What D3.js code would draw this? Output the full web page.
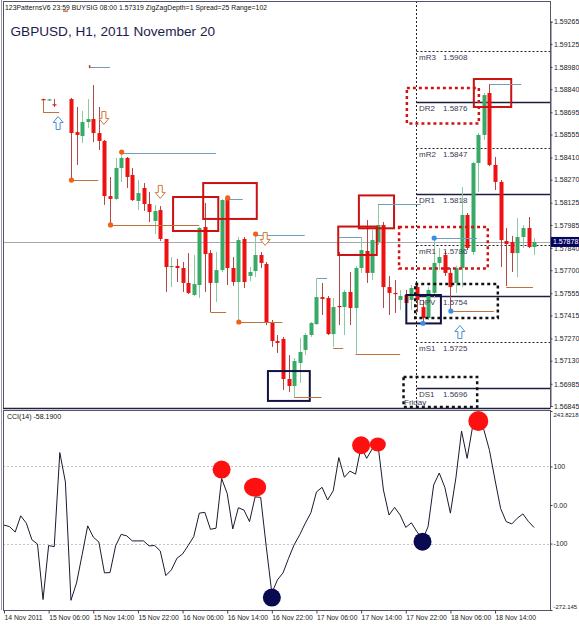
<!DOCTYPE html>
<html><head><meta charset="utf-8">
<script src="https://cdn.jsdelivr.net/npm/d3@7"></script>
<style>html,body{margin:0;padding:0;background:#fff;} svg{display:block;font-family:"Liberation Sans",Arial,sans-serif;}</style>
</head><body><svg id="c" width="579" height="625"></svg>
<script>
// ---------- DATA ----------
const headerText = "123PatternsV6  23:59  BUYSIG  08:00  1.57319  ZigZagDepth=1  Spread=25  Range=102";
const titleText = "GBPUSD, H1, 2011 November 20";
const cciLabel = "CCI(14) -58.1900";
const bidPrice = 1.57878;

const timeTickBars = [0,8,16,24,32,40,48,56,64,72,80,88];
const timeTickLabels = ["14 Nov 2011","15 Nov 06:00","15 Nov 14:00","15 Nov 22:00","16 Nov 06:00","16 Nov 14:00","16 Nov 22:00","17 Nov 06:00","17 Nov 14:00","17 Nov 22:00","18 Nov 06:00","18 Nov 14:00"];
const priceTicks = [1.59265,1.59125,1.58980,1.58840,1.58695,1.58555,1.58410,1.58270,1.58125,1.57985,1.57840,1.57700,1.57555,1.57415,1.57270,1.57130,1.56985,1.56845];
const cciTicks = [243.8218,100,0,-100,-272.145];
const cciTickLabels = ["243.8218","100","0.00","-100","-272.145"];

const candleBars = [7,8,9].concat(d3.range(12,96));
const openP = [1.58778,1.58770,1.58745,1.58778,1.58570,1.58545,1.58633,1.58652,1.58564,1.58514,
 1.58167,1.58149,1.58344,1.58407,1.58300,1.58136,1.58218,1.58117,1.58010,1.58079,
 1.57897,1.57720,1.57727,1.57714,1.57620,1.57544,1.57607,1.57972,1.57808,1.57620,
 1.57701,1.58149,1.57714,1.57626,1.57897,1.57664,1.57695,1.57796,1.57739,1.57368,
 1.57254,1.57267,1.57015,1.56971,1.57116,1.57198,1.57292,1.57361,1.57531,1.57525,
 1.57298,1.57475,1.57468,1.57563,1.57462,1.57714,1.57821,1.57683,1.57878,1.57985,
 1.57594,1.57557,1.57513,1.57544,1.57513,1.57594,1.57468,1.57399,1.57557,1.57746,
 1.57796,1.57683,1.57620,1.57714,1.58048,1.57815,1.58375,1.58552,1.58816,1.58363,
 1.58256,1.57884,1.57878,1.57808,1.57909,1.57966,1.57846];
const highP = [1.58780,1.58780,1.58778,1.58785,1.58728,1.58703,1.58778,1.58866,1.58728,1.58520,
 1.58287,1.58407,1.58444,1.58413,1.58344,1.58268,1.58249,1.58193,1.58111,1.58104,
 1.57897,1.57783,1.57771,1.57752,1.57808,1.57796,1.57972,1.58123,1.57827,1.57815,
 1.58149,1.58155,1.57783,1.57909,1.57909,1.57720,1.57928,1.57815,1.57752,1.57387,
 1.57292,1.57280,1.57166,1.57147,1.57273,1.57305,1.57374,1.57645,1.57620,1.57538,
 1.57525,1.57815,1.57576,1.57689,1.57727,1.57909,1.58016,1.57953,1.58111,1.58004,
 1.57664,1.57639,1.57576,1.57576,1.57607,1.57620,1.57513,1.57594,1.57903,1.57840,
 1.57821,1.57714,1.57727,1.58224,1.58060,1.58382,1.58564,1.58816,1.58873,1.58413,
 1.58268,1.57966,1.57916,1.58029,1.57985,1.58035,1.57903];
const lowP = [1.58766,1.58766,1.58728,1.58268,1.58363,1.58501,1.58596,1.58507,1.58457,1.58111,
 1.57985,1.58142,1.58256,1.58218,1.58136,1.58079,1.58073,1.58004,1.57928,1.57884,
 1.57563,1.57594,1.57626,1.57563,1.57550,1.57538,1.57525,1.57563,1.57437,1.57500,
 1.57689,1.57607,1.57601,1.57374,1.57588,1.57632,1.57657,1.57714,1.57355,1.57217,
 1.57179,1.56946,1.56933,1.56902,1.56990,1.57166,1.57280,1.57355,1.57418,1.57292,
 1.57217,1.57355,1.57292,1.57355,1.57173,1.57683,1.57620,1.57639,1.57859,1.57462,
 1.57418,1.57431,1.57450,1.57481,1.57450,1.57437,1.57374,1.57387,1.57525,1.57701,
 1.57664,1.57450,1.57557,1.57594,1.57827,1.57796,1.58193,1.58520,1.58356,1.58205,
 1.57720,1.57601,1.57689,1.57657,1.57840,1.57840,1.57796];
const closeP = [1.58770,1.58776,1.58745,1.58564,1.58552,1.58633,1.58652,1.58564,1.58514,1.58167,
 1.58149,1.58344,1.58407,1.58287,1.58142,1.58186,1.58117,1.58067,1.58073,1.57897,
 1.57720,1.57727,1.57714,1.57620,1.57557,1.57613,1.57966,1.57802,1.57620,1.57701,
 1.58142,1.57714,1.57626,1.57890,1.57626,1.57689,1.57796,1.57746,1.57368,1.57254,
 1.57242,1.57015,1.56971,1.57128,1.57185,1.57292,1.57368,1.57531,1.57519,1.57298,
 1.57468,1.57468,1.57563,1.57462,1.57714,1.57827,1.57683,1.57890,1.57985,1.57594,
 1.57557,1.57550,1.57538,1.57494,1.57588,1.57513,1.57399,1.57576,1.57746,1.57783,
 1.57683,1.57594,1.57714,1.58048,1.57840,1.58375,1.58552,1.58803,1.58363,1.58256,
 1.57890,1.57865,1.57808,1.57909,1.57966,1.57846,1.57878];

// CCI(14), one value per bar 0..95
const cciValues = [-52,-56,-70,-28,-47,-90,-101,-245,-105,-108,136,60,-247,-202,-129,-54,-83,-96,-176,-175,
 -106,-76,-80,-93,-93,-93,-106,-105,-119,-183,-168,-138,-127,-105,-82,-21,-19,-63,-60,69,
 30,-62,-7,-13,-43,21,20,-108,-228,-194,-176,-138,-103,-77,-47,-20,34,46,13,37,
 123,72,88,80,151,121,146,159,39,-26,-6,-26,-58,-46,-69,-90,-56,52,83,46,
 -21,72,192,121,205,222,195,142,65,-9,-43,-49,-34,-23,-43,-58.19];
const cciDotBars = [39,45,48,64,67,75,85];
const cciDotValues = [92,46,-240,155,157,-95,218];
const cciDotKinds = ["peak","peakWide","trough","peak","peakSmall","trough","peakBig"];

// Daily pivots (Friday)
const pivotNames = ["mR3","DR2","mR2","DR1","mR1","DPV","mS1","DS1"];
const pivotValues = [1.5908,1.5876,1.5847,1.5818,1.5786,1.5754,1.5725,1.5696];
const pivotStartBar = 73.85;

// pattern boxes: bar range and price range
const boxBar0 = [30.3,35.7,63.6,59.9,84.2,72.2,70.8,73.7,71.6,72.1,47.3];
const boxBar1 = [38.4,45.3,69.9,66.8,90.9,85.1,86.7,88.5,84.8,78.3,54.8];
const boxTop  = [1.58161,1.58249,1.58171,1.57975,1.58904,1.58848,1.57972,1.57613,1.57028,1.57544,1.57065];
const boxBot  = [1.57947,1.58023,1.57964,1.57796,1.58728,1.58624,1.57711,1.57399,1.56839,1.57365,1.56877];
const boxKind = ["red","red","red","red","red","redDot","redDot","blackDot","blackDot","navy","navy"];

// zigzag level segments
const segBar0 = [12,19,21,40,37,42,45,52,56,59,63,67,60,77,80,90,87,15.3,7];
const segBar1 = [16.9,35,38,42.8,39.8,49.9,53.9,56.9,57.9,60.8,71,74.7,64,84.8,87.8,94.8,92.7,19,9.9];
const segPrice = [1.58268,1.57985,1.58438,1.58149,1.57437,1.57374,1.57922,1.56902,1.57648,1.57210,1.57173,1.58114,1.57911,1.57901,1.57443,1.57596,1.58873,1.58982,1.58696];
const segKind = ["o","o","t","t","o","o","t","o","t","o","o","t","t","t","o","o","t","t","o"];
const vsegBar = [7];
const vsegP0 = [1.58772];
const vsegP1 = [1.58696];

const dotBars = [12,19,21,40,42,45,77,75,80];
const dotPrices = [1.58268,1.57985,1.58444,1.58155,1.57374,1.57928,1.57903,1.57366,1.57443];
const dotKind = ["o","o","o","o","o","o","b","b","b"];

const arrowBars = [9.7,17.9,28,46.8,81.7];
const arrowPrices = [1.58627,1.58659,1.58193,1.57897,1.57311];
const arrowDir = ["up","down","down","down","up"];

// ---------- DRAW ----------
const svg = d3.select("#c");
const L = 3, R = 550, mainTop = 1, mainBot = 408, cciTop = 410, cciBot = 610;
const x = d3.scaleLinear().domain([0,95]).range([4, 534.1]);
const yP = d3.scaleLinear().domain([1.56845,1.59265]).range([406,21.7]);
const yC = d3.scaleLinear().domain([-272.145,243.8218]).range([cciBot,411]);

const main = svg.append("g");
const cci = svg.append("g");

// frames
svg.append("line").attr("x1",1.5).attr("x2",1.5).attr("y1",0).attr("y2",cciBot).attr("stroke","#9a9aa8");
svg.append("rect").attr("x",L+0.5).attr("y",mainTop+0.5).attr("width",R-L).attr("height",mainBot-mainTop)
  .attr("fill","none").attr("stroke","#55556a").attr("stroke-width",1);
svg.append("rect").attr("x",L+0.5).attr("y",cciTop+0.5).attr("width",R-L).attr("height",cciBot-cciTop)
  .attr("fill","none").attr("stroke","#55556a").attr("stroke-width",1);
svg.append("line").attr("x1",L).attr("x2",R).attr("y1",mainBot+0.5).attr("y2",mainBot+0.5).attr("stroke","#202040").attr("stroke-width",1.5);

// header + title
svg.append("text").attr("x",5).attr("y",10).attr("font-size",6.8).attr("fill","#111")
  .attr("textLength",262).attr("lengthAdjust","spacing").text(headerText);
svg.append("rect").attr("x",63).attr("y",10.5).attr("width",5).attr("height",1.3).attr("fill","#e05020");
svg.append("text").attr("x",10.5).attr("y",36).attr("font-size",13.6).attr("fill","#1c1c4e").text(titleText);

// bid line
main.append("line").attr("x1",L).attr("x2",R).attr("y1",Math.round(yP(bidPrice))+0.5).attr("y2",Math.round(yP(bidPrice))+0.5)
  .attr("stroke","#a8a8b0").attr("stroke-width",1);

// day separator
const sepX = Math.round(x(pivotStartBar))+0.5;
main.append("line").attr("x1",sepX).attr("x2",sepX).attr("y1",mainTop).attr("y2",mainBot)
  .attr("stroke","#222").attr("stroke-dasharray","2,2");

// pivots
pivotNames.forEach((n,i)=>{
  const yy = Math.round(yP(pivotValues[i]))+0.5;
  const solid = n[0]==="D";
  main.append("line").attr("x1",sepX).attr("x2",R).attr("y1",yy).attr("y2",yy)
    .attr("stroke",solid?"#1e1e40":"#222").attr("stroke-width",solid?1.5:1)
    .attr("stroke-dasharray",solid?null:"2,2");
});

// candles
const cg = main.append("g");
candleBars.forEach((b,i)=>{
  const o=openP[i], c=closeP[i], h=highP[i], l=lowP[i];
  const up = c>o;
  const cx = Math.round(x(b))+0.5;
  cg.append("line").attr("x1",cx).attr("x2",cx).attr("y1",yP(h)).attr("y2",yP(l))
    .attr("stroke", up?"#8ccaa4":"#b04848").attr("stroke-width",1);
  const y0 = yP(Math.max(o,c)), y1 = yP(Math.min(o,c));
  cg.append("rect").attr("x",cx-2).attr("y",y0).attr("width",4).attr("height",Math.max(1.2,y1-y0))
    .attr("fill", up?"#38aa66":"#ee1111");
});

// boxes
const boxStyle = {
  red:{stroke:"#cc1111",w:2,dash:null},
  redDot:{stroke:"#d01515",w:2.5,dash:"3,3"},
  blackDot:{stroke:"#111",w:2.5,dash:"3,3"},
  navy:{stroke:"#121242",w:2,dash:null}
};
boxKind.forEach((k,i)=>{
  const s=boxStyle[k];
  const x0=x(boxBar0[i]), x1=x(boxBar1[i]), y0=yP(boxTop[i]), y1=yP(boxBot[i]);
  main.append("rect").attr("x",x0).attr("y",y0).attr("width",x1-x0).attr("height",y1-y0)
    .attr("fill","none").attr("stroke",s.stroke).attr("stroke-width",s.w).attr("stroke-dasharray",s.dash);
});

// zigzag segments
const segColor = {o:"#c2703c", t:"#6f9fb8"};
segKind.forEach((k,i)=>{
  const yy = Math.round(yP(segPrice[i]))+0.5;
  main.append("line").attr("x1",x(segBar0[i])).attr("x2",x(segBar1[i])).attr("y1",yy).attr("y2",yy)
    .attr("stroke",segColor[k]).attr("stroke-width",1);
});
vsegBar.forEach((b,i)=>{
  const xx=Math.round(x(b))+0.5;
  main.append("line").attr("x1",xx).attr("x2",xx).attr("y1",yP(vsegP0[i])).attr("y2",yP(vsegP1[i]))
    .attr("stroke",segColor.o);
});
main.append("rect").attr("x",x(15.3)-0.5).attr("y",yP(1.58982)-1.5).attr("width",1.5).attr("height",3).attr("fill","#cc3030");

// dots
dotKind.forEach((k,i)=>{
  main.append("circle").attr("cx",x(dotBars[i])+0.5).attr("cy",yP(dotPrices[i])).attr("r",2.6)
    .attr("fill",k==="o"?"#f0601a":"#3a8ee8");
});

// arrows
const upPath = "M0,-6.5 L5,-0.5 L2,-0.5 L2,6.5 L-2,6.5 L-2,-0.5 L-5,-0.5 Z";
arrowDir.forEach((d,i)=>{
  main.append("path").attr("d",upPath)
    .attr("transform",`translate(${x(arrowBars[i])},${yP(arrowPrices[i])}) rotate(${d==="up"?0:180})`)
    .attr("fill","#fff").attr("stroke",d==="up"?"#4a8fd0":"#d07838").attr("stroke-width",1);
});

// pivot labels
pivotNames.forEach((n,i)=>{
  const yy = yP(pivotValues[i])+9;
  main.append("text").attr("x",sepX+2.5).attr("y",yy).attr("font-size",8).attr("fill","#3a3a55").text(n);
  main.append("text").attr("x",sepX+26.5).attr("y",yy).attr("font-size",8).attr("fill","#3a3a55").text(pivotValues[i].toFixed(4));
});
main.append("text").attr("x",404).attr("y",404.5).attr("font-size",8).attr("fill","#3a3a55").text("Friday");

// price axis
const pa = svg.append("g").attr("transform",`translate(${R+0.5},0)`)
  .call(d3.axisRight(yP).tickValues(priceTicks).tickSize(2).tickPadding(1.5).tickFormat(d3.format(".5f")));
pa.select(".domain").attr("stroke","#55556a");
pa.selectAll("text").attr("font-size",7).attr("fill","#222").attr("font-family","Liberation Sans, Arial");
pa.selectAll("line").attr("stroke","#444");
// bid label
const by = yP(bidPrice);
svg.append("rect").attr("x",R+1).attr("y",by-5).attr("width",28).attr("height",10).attr("fill","#050560");
svg.append("text").attr("x",R+3).attr("y",by+2.5).attr("font-size",7).attr("fill","#fff").text(bidPrice.toFixed(5));

// ---------- CCI ----------
[100,-100].forEach(v=>{
  cci.append("line").attr("x1",L).attr("x2",R).attr("y1",Math.round(yC(v))+0.5).attr("y2",Math.round(yC(v))+0.5)
    .attr("stroke","#c4c4c8").attr("stroke-dasharray","2,2");
});
cci.append("path").datum(cciValues)
  .attr("d",d3.line().x((d,i)=>x(i)).y(d=>yC(d)))
  .attr("fill","none").attr("stroke","#1a1a30").attr("stroke-width",1);
const dotStyle = {
  peak:{fill:"#ff1010",rx:9,ry:9},
  peakWide:{fill:"#ff1010",rx:11,ry:9.5},
  peakSmall:{fill:"#ff1010",rx:8,ry:7},
  peakBig:{fill:"#ff1010",rx:10,ry:10},
  trough:{fill:"#0a0a50",rx:9,ry:9}
};
cciDotKinds.forEach((k,i)=>{
  const s=dotStyle[k];
  cci.append("ellipse").attr("cx",x(cciDotBars[i])).attr("cy",yC(cciDotValues[i])).attr("rx",s.rx).attr("ry",s.ry).attr("fill",s.fill);
});
cci.append("text").attr("x",7).attr("y",419).attr("font-size",7).attr("fill","#111").text(cciLabel);

const ca = svg.append("g").attr("transform",`translate(${R+0.5},0)`)
  .call(d3.axisRight(yC).tickValues(cciTicks).tickSize(2).tickPadding(1).tickFormat((d,i)=>cciTickLabels[i]));
ca.select(".domain").remove();
ca.selectAll("text").attr("fill","#222").attr("font-family","Liberation Sans, Arial")
  .attr("font-size",(d,i)=> (i===0 || i===cciTicks.length-1) ? 6 : 7)
  .attr("dy",(d,i)=> i===0 ? "0.9em" : (i===cciTicks.length-1 ? "-0.3em" : "0.32em"));
ca.selectAll("line").attr("stroke","#444");

// time axis
const ta = svg.append("g").attr("transform",`translate(0,${cciBot+0.5})`)
  .call(d3.axisBottom(x).tickValues(timeTickBars).tickSize(3).tickPadding(2).tickFormat((d,i)=>timeTickLabels[i]));
ta.select(".domain").remove();
ta.selectAll("text").attr("font-size",6.8).attr("fill","#222").attr("text-anchor","start").attr("font-family","Liberation Sans, Arial");
ta.selectAll("line").attr("stroke","#444");
</script></body></html>
